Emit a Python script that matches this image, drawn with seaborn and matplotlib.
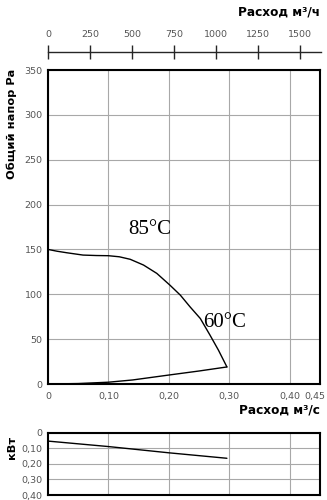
import numpy as np
import pandas as pd
import seaborn as sns
import matplotlib
matplotlib.use("Agg")
import matplotlib.pyplot as plt
from matplotlib.transforms import ScaledTranslation

sns.set_style("white")
plt.rcParams["font.family"] = ["DejaVu Sans"]
plt.rcParams["text.color"] = "black"

# Fan characteristic: total pressure vs. air flow
flow_fan = [0.0, 0.015, 0.031, 0.058, 0.08, 0.10, 0.118, 0.136, 0.158, 0.18,
            0.202, 0.219, 0.235, 0.252, 0.268, 0.282, 0.296]
press_fan = [150, 148, 146.3, 143.7, 143.2, 143, 141.8, 139, 132.6, 123.3,
             110, 99, 86, 73, 54.5, 37.7, 19]

# System resistance curve
flow_sys = [0.0, 0.05, 0.10, 0.14, 0.20, 0.25, 0.296]
press_sys = [0.0, 0.5, 2.0, 4.5, 10.0, 14.5, 19]

# Absorbed power
flow_pow = [0.0, 0.10, 0.20, 0.296]
power = [0.055, 0.09, 0.13, 0.165]

x_ticks = [0, 0.10, 0.20, 0.30, 0.40, 0.45]
x_tick_labels = ["0", "0,10", "0,20", "0,30", "0,40", "0,45"]
y_ticks = [0, 50, 100, 150, 200, 250, 300, 350]
m3h_ticks = [0, 250, 500, 750, 1000, 1250, 1500]
pow_ticks = [0, 0.10, 0.20, 0.30, 0.40]
pow_tick_labels = ["0", "0,10", "0,20", "0,30", "0,40"]

fan_df = pd.DataFrame({"flow": flow_fan, "p": press_fan})
sys_df = pd.DataFrame({"flow": flow_sys, "p": press_sys})
pow_df = pd.DataFrame({"flow": flow_pow, "kw": power})

W, H = 327, 500
fig = plt.figure(figsize=(W / 100, H / 100), dpi=100)

def fx(px):
    return px / W

def fy(py):
    return 1 - py / H

tick_color = "#555555"
grid_color = "#a8a8a8"
tick_size = 6.8

# Main pressure chart
ax = fig.add_axes([fx(48), fy(384), fx(320) - fx(48), fy(70) - fy(384)])
sns.lineplot(data=fan_df, x="flow", y="p", ax=ax, color="black", lw=1.0)
sns.lineplot(data=sys_df, x="flow", y="p", ax=ax, color="black", lw=1.0)
ax.set_xlim(0, 0.45)
ax.set_ylim(0, 350)
ax.set_xticks(x_ticks)
ax.set_xticklabels(x_tick_labels)
ax.set_yticks(y_ticks)
ax.set_yticklabels([str(v) for v in y_ticks])
ax.grid(True, color=grid_color, lw=0.8)
ax.tick_params(length=0, labelsize=tick_size, labelcolor=tick_color, pad=4)
ax.tick_params(axis="x", pad=6)
last = ax.get_xticklabels()[-1]
last.set_transform(last.get_transform() + ScaledTranslation(-5 / 100, 0, fig.dpi_scale_trans))
ax.set_xlabel("")
ax.set_ylabel("")
for s in ax.spines.values():
    s.set_color("black")
    s.set_linewidth(1.5)
ax.text(0.168, 172, "85°C", family="Liberation Serif", fontsize=15,
        ha="center", va="center")
ax.text(0.292, 68, "60°C", family="Liberation Serif", fontsize=15,
        ha="center", va="center")

# Power chart
axp = fig.add_axes([fx(48), fy(495), fx(320) - fx(48), fy(432.5) - fy(495)])
sns.lineplot(data=pow_df, x="flow", y="kw", ax=axp, color="black", lw=1.0)
axp.set_xlim(0, 0.45)
axp.set_ylim(0.40, 0)
axp.set_xticks([0.10, 0.20, 0.30, 0.40])
axp.set_xticklabels([])
axp.set_yticks(pow_ticks)
axp.set_yticklabels(pow_tick_labels)
axp.grid(True, color=grid_color, lw=0.8)
axp.tick_params(length=0, labelsize=tick_size, labelcolor=tick_color, pad=4)
axp.set_xlabel("")
axp.set_ylabel("")
for s in axp.spines.values():
    s.set_color("black")
    s.set_linewidth(1.5)

# Secondary flow scale in m3/h
axh = fig.add_axes([fx(48), fy(52), fx(321) - fx(48), 0.0001])
axh.set_xlim(0, 0.45 * 3600 * (321 - 48) / (320 - 48))
axh.set_ylim(0, 1)
axh.set_yticks([])
axh.set_xticks(m3h_ticks)
axh.set_xticklabels([str(v) for v in m3h_ticks])
axh.xaxis.set_ticks_position("top")
axh.tick_params(axis="x", direction="inout", length=10, width=1.0,
                labelsize=tick_size, labelcolor=tick_color, pad=4.5)
axh.set_facecolor("none")
for name, s in axh.spines.items():
    s.set_visible(name == "top")
axh.spines["top"].set_linewidth(1.0)

fig.text(fx(320), fy(12), "Расход м³/ч", ha="right", va="center",
         fontsize=8.7, fontweight="bold")
fig.text(fx(320), fy(410), "Расход м³/с", ha="right", va="center",
         fontsize=8.7, fontweight="bold")
fig.text(fx(12), fy(69), "Общий напор Pa", rotation=90, ha="center",
         va="top", fontsize=8.2, fontweight="bold")
fig.text(fx(12), fy(447), "кВт", rotation=90, ha="center",
         va="center", fontsize=8.2, fontweight="bold")

fig.savefig("out.png", dpi=100, facecolor="white")
